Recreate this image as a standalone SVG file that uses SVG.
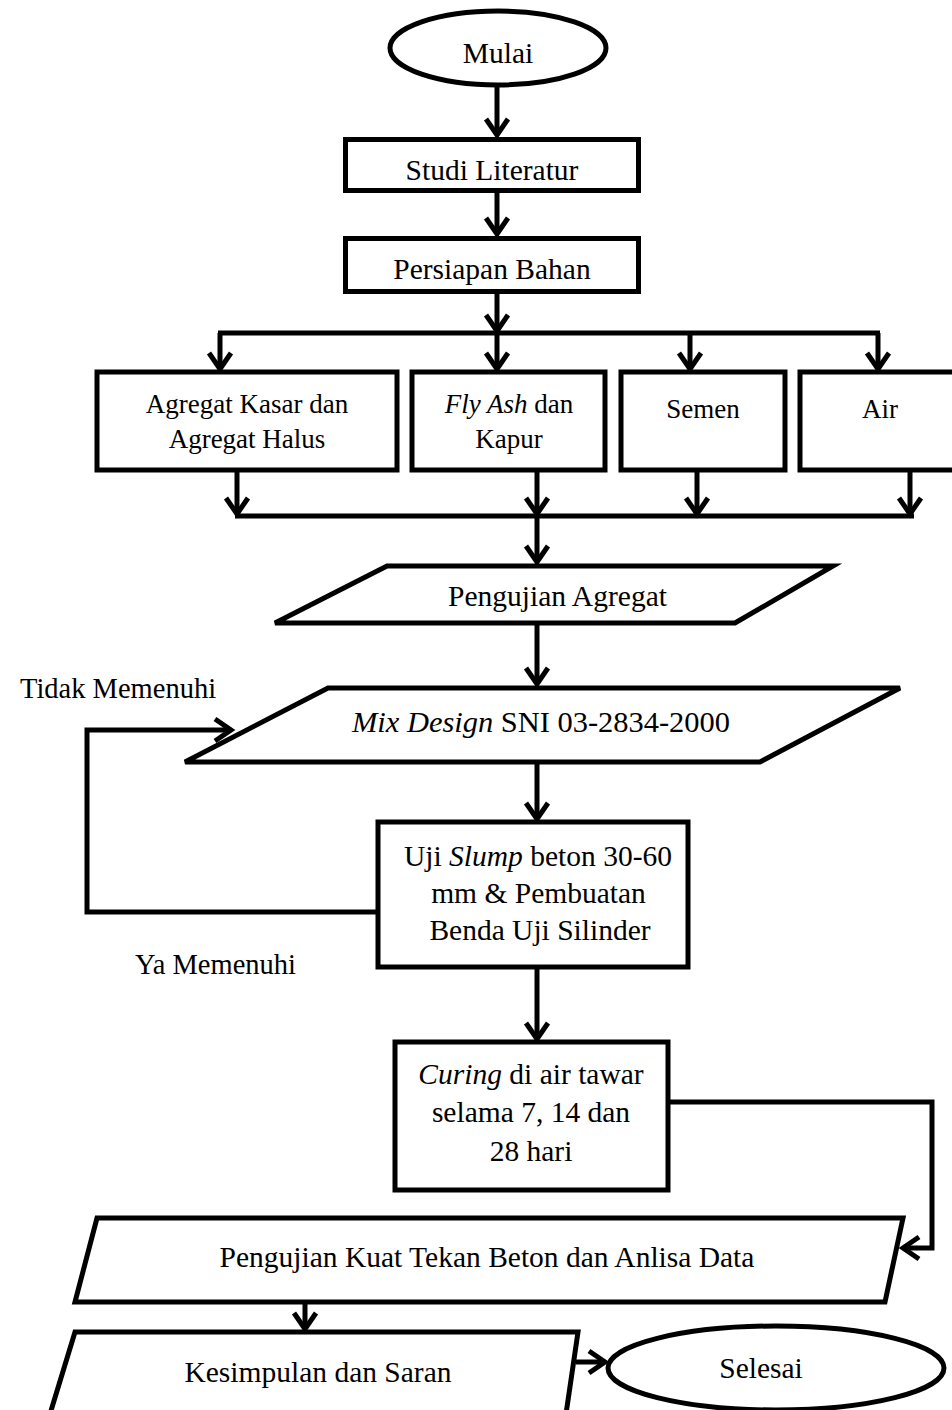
<svg xmlns="http://www.w3.org/2000/svg" width="952" height="1410" viewBox="0 0 952 1410">
<style>
.s{fill:#fff;stroke:#000;stroke-width:5;stroke-linejoin:miter}
.c{fill:none;stroke:#000;stroke-width:5}
.t{font-family:"Liberation Serif","Times New Roman",serif;font-size:29.5px;fill:#000;text-anchor:middle}
.b{font-size:27px}
.l{text-anchor:start;font-size:28.5px}
</style>
<defs>
<marker id="ah" markerUnits="userSpaceOnUse" viewBox="-22 -14 26 28" markerWidth="26" markerHeight="28" refX="0" refY="0" orient="auto" overflow="visible">
<path d="M-16,-11 L0,0 L-16,11" fill="none" stroke="#000" stroke-width="5"/>
</marker>
</defs>
<rect width="952" height="1410" fill="#fff"/>
<g id="connectors">
<path class="c" d="M497,86 V135" marker-end="url(#ah)"/>
<path class="c" d="M497,191 V234" marker-end="url(#ah)"/>
<path class="c" d="M497,292 V331" marker-end="url(#ah)"/>
<path class="c" d="M218,333 H880"/>
<path class="c" d="M220,333 V369" marker-end="url(#ah)"/>
<path class="c" d="M497,333 V369" marker-end="url(#ah)"/>
<path class="c" d="M690,333 V369" marker-end="url(#ah)"/>
<path class="c" d="M878,333 V369" marker-end="url(#ah)"/>
<path class="c" d="M237,470 V514" marker-end="url(#ah)"/>
<path class="c" d="M537,470 V514" marker-end="url(#ah)"/>
<path class="c" d="M697,470 V514" marker-end="url(#ah)"/>
<path class="c" d="M910,470 V514" marker-end="url(#ah)"/>
<path class="c" d="M235,516 H914"/>
<path class="c" d="M537,516 V562" marker-end="url(#ah)"/>
<path class="c" d="M537,625 V684" marker-end="url(#ah)"/>
<path class="c" d="M537,762 V819" marker-end="url(#ah)"/>
<path class="c" d="M378,912 H87 V730 H231" marker-end="url(#ah)"/>
<path class="c" d="M537,967 V1039" marker-end="url(#ah)"/>
<path class="c" d="M668,1102 H932 V1248 H903" marker-end="url(#ah)"/>
<path class="c" d="M305,1302 V1329" marker-end="url(#ah)"/>
<path class="c" d="M576,1362 H605" marker-end="url(#ah)"/>
</g>
<g id="mulai">
<ellipse class="s" cx="498" cy="48" rx="108" ry="37"/>
<text class="t" x="498" y="63">Mulai</text>
</g>
<g id="studi">
<rect class="s" x="345.5" y="139.5" width="293" height="51"/>
<text class="t" x="492" y="180">Studi Literatur</text>
</g>
<g id="persiapan">
<rect class="s" x="345.5" y="238.5" width="293" height="53"/>
<text class="t" x="492" y="279">Persiapan Bahan</text>
</g>
<g id="agregat">
<rect class="s" x="97" y="372" width="300" height="98"/>
<text class="t b" x="247" y="413">Agregat Kasar dan</text>
<text class="t b" x="247" y="448">Agregat Halus</text>
</g>
<g id="flyash">
<rect class="s" x="412" y="372" width="193" height="98"/>
<text class="t b" x="509" y="413"><tspan font-style="italic">Fly Ash</tspan> dan</text>
<text class="t b" x="509" y="448">Kapur</text>
</g>
<g id="semen">
<rect class="s" x="621" y="372" width="164" height="98"/>
<text class="t b" x="703" y="418">Semen</text>
</g>
<g id="air">
<rect class="s" x="800" y="372" width="160" height="98"/>
<text class="t b" x="880" y="418">Air</text>
</g>
<g id="pengujian-agregat">
<polygon class="s" points="387,566 833,566 735,623 275,623"/>
<text class="t" x="557.5" y="606" textLength="219" lengthAdjust="spacingAndGlyphs">Pengujian Agregat</text>
</g>
<g id="mix-design">
<polygon class="s" points="328,688 900,688 760,762 185,762"/>
<text class="t" x="541" y="732" textLength="378" lengthAdjust="spacingAndGlyphs"><tspan font-style="italic">Mix Design</tspan> SNI 03-2834-2000</text>
</g>
<g id="label-tidak">
<text class="t l" x="20" y="698">Tidak Memenuhi</text>
</g>
<g id="uji-slump">
<rect class="s" x="378" y="822" width="310" height="145"/>
<text class="t" x="538" y="866">Uji <tspan font-style="italic">Slump</tspan> beton 30-60</text>
<text class="t" x="538.5" y="903">mm &amp; Pembuatan</text>
<text class="t" x="540" y="940">Benda Uji Silinder</text>
</g>
<g id="label-ya">
<text class="t l" x="135" y="974">Ya Memenuhi</text>
</g>
<g id="curing">
<rect class="s" x="395" y="1042" width="273" height="148"/>
<text class="t" x="531" y="1084"><tspan font-style="italic">Curing</tspan> di air tawar</text>
<text class="t" x="531" y="1122">selama 7, 14 dan</text>
<text class="t" x="531" y="1161">28 hari</text>
</g>
<g id="kuat-tekan">
<polygon class="s" points="97,1218 903,1218 885,1302 75,1302"/>
<text class="t" x="487" y="1267">Pengujian Kuat Tekan Beton dan Anlisa Data</text>
</g>
<g id="kesimpulan">
<polygon class="s" points="75,1332 578,1332 566,1414 50,1414"/>
<text class="t" x="318" y="1382">Kesimpulan dan Saran</text>
</g>
<g id="selesai">
<ellipse class="s" cx="776" cy="1368" rx="168" ry="42"/>
<text class="t" x="761" y="1378">Selesai</text>
</g>
</svg>
